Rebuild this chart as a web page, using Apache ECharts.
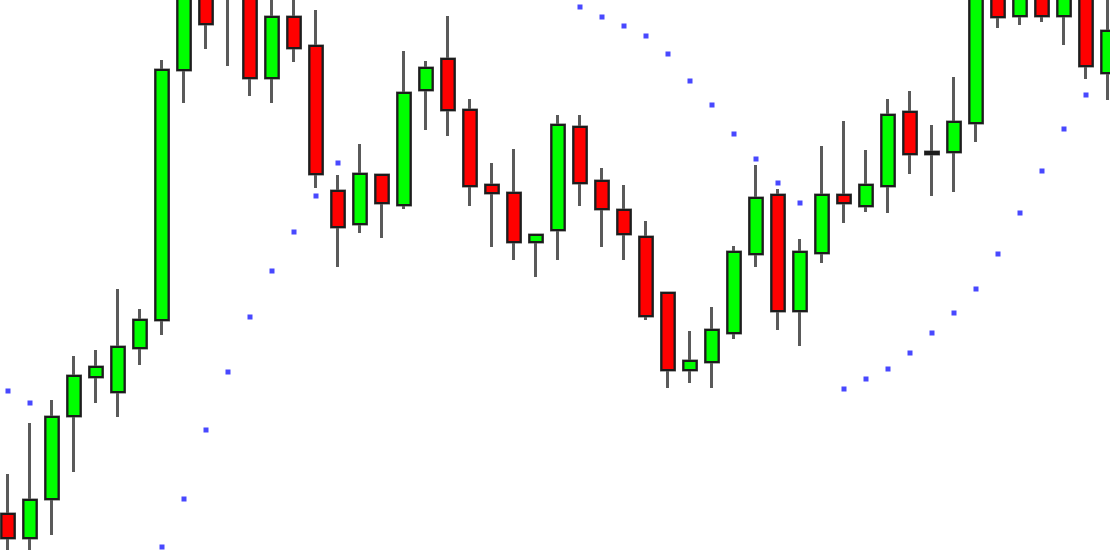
<!DOCTYPE html>
<html>
<head>
<meta charset="utf-8">
<script src="https://cdn.jsdelivr.net/npm/echarts@6/dist/echarts.min.js"></script>
<style>
html,body{margin:0;padding:0;background:#fff;}
#chart{width:1110px;height:550px;}
</style>
</head>
<body>
<div id="chart"></div>
<script>
var categories = [];
for (var k = 1; k <= 51; k++) categories.push('Bar ' + k);

var openV  = [36, 12, 51,134,173,158,202,230,480,565,600,560,472,533,504,359,326,375,345,460,491,440,365,357,308,320,423,369,340,313,257,180,188,217,296,355,239,297,355,344,364,438,398,398,427,560,534,562,534,555,477];
var closeV = [12, 50,133,174,183,203,230,480,570,526,558,472,533,502,376,323,376,347,457,482,440,364,357,308,315,425,367,341,316,234,180,189,220,298,352,239,298,355,347,365,435,396,396,428,580,533,565,534,568,484,519];
var lowV   = [-15,-12,15, 78,147,133,185,215,447,501,484,454,447,488,362,283,317,312,341,420,414,344,303,290,273,290,344,303,290,230,162,167,162,211,283,220,204,287,327,338,337,376,354,358,408,522,525,528,505,471,450];
var highV  = [76,127,150,194,200,261,241,490,585,590,610,580,565,560,540,375,406,375,499,489,534,451,387,401,315,435,435,382,365,329,257,219,243,304,385,361,311,404,429,400,451,459,425,473,595,575,575,580,580,570,560];
var sarV   = [159,147,'-','-','-','-','-',3,51,120,178,233,279,318,354,387,'-','-','-','-','-','-','-','-','-','-',543,533,524,514,496,469,445,416,391,367,347,'-',161,171,181,197,217,237,261,296,337,379,421,455,'-'];

var full = [], bodies = [];
for (var i = 0; i < categories.length; i++) {
  full.push([openV[i], closeV[i], lowV[i], highV[i]]);
  bodies.push([openV[i], closeV[i], Math.min(openV[i], closeV[i]), Math.max(openV[i], closeV[i])]);
}

var chart = echarts.init(document.getElementById('chart'), null, {renderer: 'canvas'});
chart.setOption({
  animation: false,
  backgroundColor: '#ffffff',
  grid: {left: 8, right: 2, top: 0, bottom: 0, containLabel: false},
  xAxis: {type: 'category', data: categories, boundaryGap: false, show: false},
  yAxis: {type: 'value', min: 0, max: 550, show: false, splitLine: {show: false}},
  series: [
    {
      type: 'candlestick', data: full, barWidth: 14, clip: false,
      itemStyle: {color: '#00ff00', color0: '#ff0000', borderColor: '#5a5a5a', borderColor0: '#5a5a5a', borderWidth: 3}
    },
    {
      type: 'candlestick', data: bodies, barWidth: 14, clip: false,
      itemStyle: {color: '#00ff00', color0: '#ff0000', borderColor: '#1c1c1c', borderColor0: '#1c1c1c', borderColorDoji: '#1c1c1c', borderWidth: 2}
    },
    {
      type: 'scatter', data: sarV, symbol: 'rect', symbolSize: 5,
      itemStyle: {color: '#1a1aff'}, clip: false, z: 5
    }
  ]
});
</script>
</body>
</html>
